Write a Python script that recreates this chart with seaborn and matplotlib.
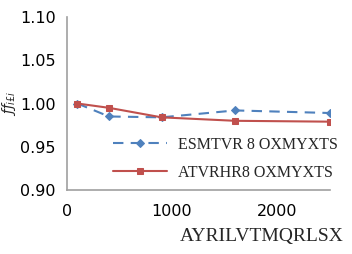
import matplotlib
matplotlib.use("Agg")
import matplotlib.pyplot as plt
import seaborn as sns
import pandas as pd

x_vals = [100, 400, 900, 1600, 2500]
series1 = [1.000, 0.985, 0.984, 0.992, 0.989]
series2 = [1.000, 0.995, 0.984, 0.980, 0.979]
label1 = "ESMTVR 8 OXMYXTS"
label2 = "ATVRHR8 OXMYXTS"
x_label = "AYRILVTMQRLSX"
y_label = r"$ƒƒ_{i£i}$"
y_ticks = [0.90, 0.95, 1.00, 1.05, 1.10]
x_ticks = [0, 1000, 2000]

sns.set_theme(style="white")
plt.rcParams['font.family'] = ['DejaVu Sans']

df = pd.DataFrame({"x": x_vals * 2, "y": series1 + series2,
                   "s": [label1] * len(x_vals) + [label2] * len(x_vals)})

fig = plt.figure(figsize=(3.52, 2.54), dpi=100)
ax = fig.add_axes([0.19, 0.252, 0.747, 0.681])

blue = "#4F81BD"
red = "#C0504D"
sns.lineplot(data=df[df.s == label1], x="x", y="y", ax=ax, color=blue,
             marker="D", markersize=4, linestyle=(0, (5, 3.5)), linewidth=1.5,
             markeredgecolor=blue, label=label1)
sns.lineplot(data=df[df.s == label2], x="x", y="y", ax=ax, color=red,
             marker="s", markersize=4, linewidth=1.5,
             markeredgecolor=red, label=label2)

ax.set_xlim(0, 2500)
ax.set_ylim(0.90, 1.10)
ax.set_yticks(y_ticks)
ax.set_yticklabels([f"{v:.2f}" for v in y_ticks])
ax.set_xticks(x_ticks)
ax.tick_params(axis="both", labelsize=11.5, length=0, colors="#000000")
ax.tick_params(axis="y", pad=8)
ax.tick_params(axis="x", pad=10)
for s in ["top", "right"]:
    ax.spines[s].set_visible(False)
for s in ["left", "bottom"]:
    ax.spines[s].set_color("#A0A0A0")
    ax.spines[s].set_linewidth(1.2)

ax.set_xlabel(x_label, fontsize=14, family="Liberation Serif")
ax.xaxis.set_label_coords(0.74, -0.22)
ax.set_ylabel(y_label, fontsize=10)
ax.yaxis.set_label_coords(-0.185, 0.5)

leg = ax.legend(loc="center left", bbox_to_anchor=(0.15, 0.18), frameon=False,
                prop={"family": "Liberation Serif", "size": 11.5},
                handlelength=3.4, labelspacing=0.75, handletextpad=0.7,
                borderaxespad=0.0)

fig.savefig("out.png", dpi=100)
